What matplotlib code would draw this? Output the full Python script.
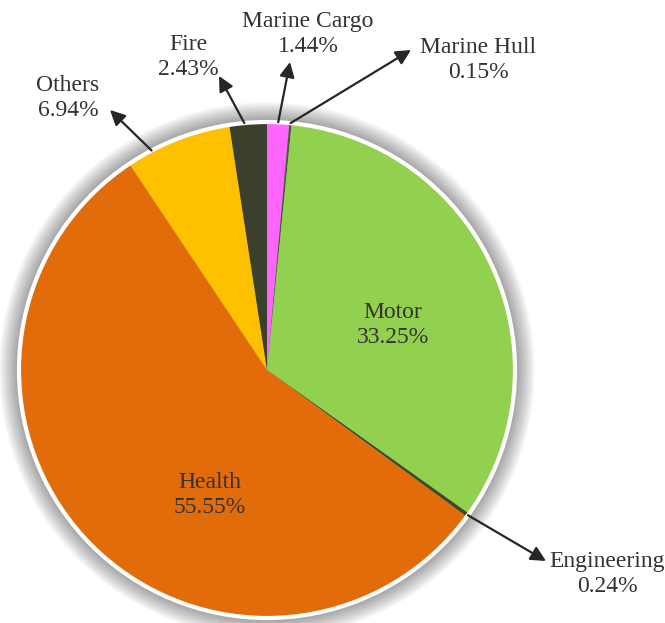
import numpy as np
import matplotlib
matplotlib.use("Agg")
import matplotlib.pyplot as plt
from matplotlib.patches import Circle

categories = ["Marine Cargo", "Marine Hull", "Motor", "Engineering", "Health", "Others", "Fire"]
shares = [1.44, 0.15, 33.25, 0.24, 55.55, 6.94, 2.43]
labels_pct = ["1.44%", "0.15%", "33.25%", "0.24%", "55.55%", "6.94%", "2.43%"]
colors = ["#FF66FF", "#4A5A3A", "#92D050", "#3A4A2A", "#E36C0A", "#FFC000", "#3A402C"]

W, H = 665, 623
CX, CY, R = 267, 370, 248

def px(x, y):
    return ((x - CX) / R, (CY - y) / R)

fig = plt.figure(figsize=(W / 100, H / 100), dpi=100)
ax = fig.add_axes([0, 0, 1, 1])

# soft shadow / glow
for r in np.linspace(1.08, 1.0, 16):
    ax.add_patch(Circle((0, 0), r, facecolor="#000000", alpha=0.028, edgecolor="none", zorder=0))

wedges, _ = ax.pie(shares, colors=colors, startangle=90, counterclock=False,
                   radius=1.0, wedgeprops=dict(edgecolor="none", linewidth=0))
for w in wedges:
    w.set_zorder(2)
ax.add_patch(Circle((0, 0), 1.0, facecolor="none", edgecolor="white", lw=3, zorder=3))

ax.set_xlim(-CX / R, (W - CX) / R)
ax.set_ylim((CY - H) / R, CY / R)
ax.set_aspect("equal")
ax.axis("off")

txt_kw = dict(fontsize=17, family="Liberation Serif", color="#333333",
              ha="center", va="center", linespacing=1.25, zorder=5)

inside = {"Motor": (393, 325), "Health": (210, 495)}
# text centre, arrow tip, fraction of wedge angle where the arrow starts
outside = {
    "Marine Cargo": ((308, 34), (290, 62), 0.5),
    "Marine Hull": ((478, 60), (411, 50), 0.5),
    "Fire": ((188, 57), (219, 76), 0.6),
    "Others": ((68, 98), (110, 110), 0.76),
    "Engineering": ((607, 574), (546, 561), 0.5),
}

for w, cat, pct in zip(wedges, categories, labels_pct):
    if cat in inside:
        ax.text(*px(*inside[cat]), f"{cat}\n{pct}", **txt_kw)
    else:
        tpos, tip, f = outside[cat]
        theta = np.deg2rad(w.theta1 + f * (w.theta2 - w.theta1))
        ax.text(*px(*tpos), f"{cat}\n{pct}", **txt_kw)
        ax.annotate("", xy=px(*tip), xytext=(np.cos(theta), np.sin(theta)),
                    arrowprops=dict(arrowstyle="-|>,head_length=0.9,head_width=0.45",
                                    color="#262626", lw=1.6, shrinkA=0, shrinkB=0),
                    zorder=6)

fig.savefig("out.png", dpi=100)
